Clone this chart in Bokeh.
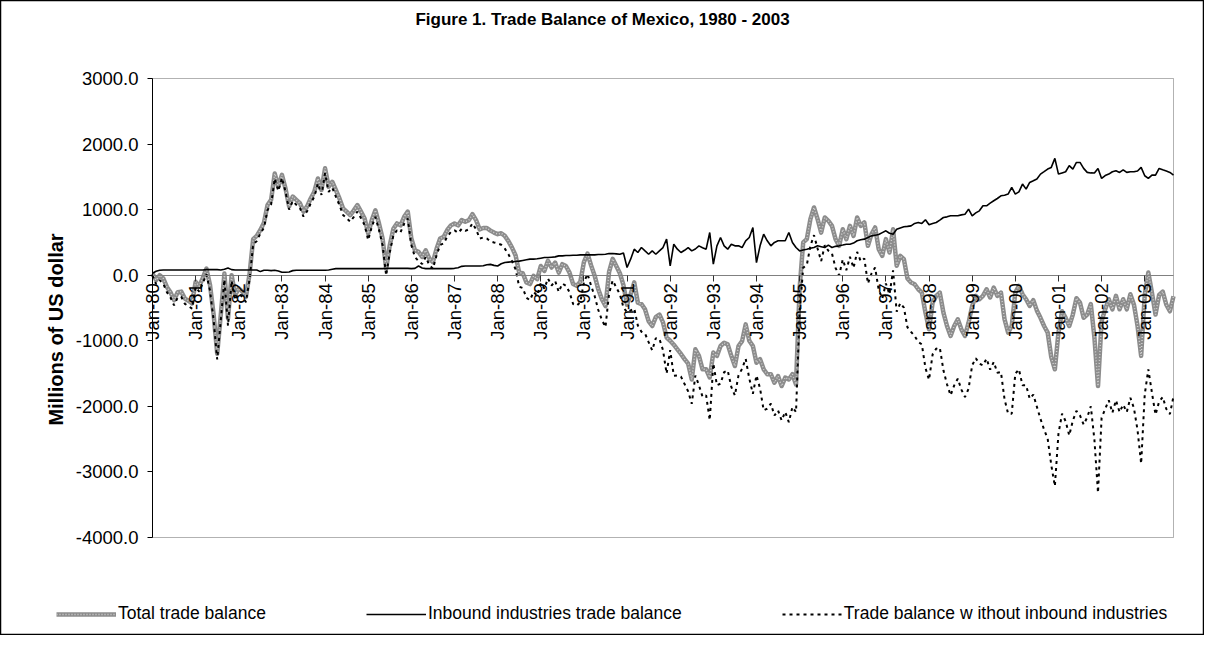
import math
from bokeh.plotting import figure
from bokeh.models import (Range1d, FixedTicker, PrintfTickFormatter, LinearAxis, Label,
                          Legend, LegendItem, ColumnDataSource, BoxAnnotation)
from bokeh.embed import file_html
from bokeh.resources import INLINE

# ---------------- data (millions of US dollars, monthly Jan-1980 .. Sep-2003) -------------
total_trade = [
    25, -76, 0, -50, -178, -260, -380, -260, -250, -356, -390, -430,            # 1980
    -100, -170, -40, 100, -150, -600, -1200, -600, 25, -660, 0, -300,          # 1981
    -200, -250, -330, 20, 550, 600, 690, 800, 1070, 1150, 1550, 1350,          # 1982
    1530, 1320, 1050, 1200, 1150, 1100, 970, 1050, 1170, 1270, 1475, 1300,     # 1983
    1630, 1350, 1425, 1300, 1170, 1020, 970, 915, 990, 1070, 970, 865,         # 1984
    636, 840, 990, 790, 560, 100, 458, 710, 790, 760, 890, 970,                # 1985
    560, 380, 356, 280, 380, 255, 200, 400, 560, 585, 690, 760,                # 1986
    790, 760, 840, 815, 840, 930, 840, 700, 720, 720, 680, 650,                # 1987
    626, 640, 600, 520, 420, 300, 40, 30, -110, -135, -10, -60,                # 1988
    140, 65, 220, 117, 193, 40, 168, 140, 40, -135, -160, -100,                # 1989
    200, 330, 150, -10, -215, -366, -470, 50, 250, 140, 30, -150,              # 1990
    -450, -290, -110, -420, -440, -520, -700, -775, -640, -600, -720, -950,    # 1991
    -1000, -1060, -1130, -1200, -1280, -1350, -1590, -1130, -1230, -1435, -1435, -1560,  # 1992
    -1180, -1230, -1080, -1030, -1055, -1230, -1385, -1080, -1005, -750, -1000, -1080,   # 1993
    -1335, -1280, -1435, -1510, -1510, -1640, -1537, -1690, -1560, -1590, -1510, -1665,  # 1994
    -200, 500, 550, 855, 1033, 855, 650, 880, 830, 753, 550, 448,              # 1995
    700, 550, 753, 600, 880, 753, 805, 448, 626, 728, 397, 295,                # 1996
    550, 346, 700, 143, 295, 245, -50, -112, -137, -214, -265, -570,           # 1997
    -825, -417, -316, -265, -570, -774, -926, -774, -672, -825, -926, -723,    # 1998
    -468, -316, -366, -316, -214, -340, -188, -316, -265, -672, -875, -774,    # 1999
    -265, -163, -290, -366, -468, -380, -540, -650, -774, -875, -1250, -1435,  # 2000
    -875, -550, -650, -774, -600, -350, -420, -650, -600, -440, -950, -1690,   # 2001
    -700, -520, -366, -520, -315, -520, -366, -520, -290, -450, -774, -1230,   # 2002
    -300, 40, -265, -600, -300, -250, -450, -550, -320,                        # 2003
]

inbound_trade = [
    30, 60, 75, 80, 80, 80, 80, 80, 80, 80, 80, 80,                            # 1980
    80, 80, 80, 85, 85, 85, 85, 80, 90, 110, 85, 80,                           # 1981
    80, 80, 80, 80, 80, 80, 55, 75, 75, 70, 75, 65,                            # 1982
    45, 45, 50, 70, 75, 75, 75, 75, 75, 75, 75, 75,                            # 1983
    75, 80, 90, 100, 100, 100, 100, 100, 100, 100, 100, 100,                   # 1984
    100, 100, 100, 100, 100, 105, 105, 105, 105, 105, 105, 105,                # 1985
    100, 105, 140, 110, 100, 100, 100, 100, 100, 100, 100, 100,                # 1986
    105, 115, 135, 140, 140, 140, 140, 140, 145, 160, 165, 150,                # 1987
    140, 175, 195, 200, 205, 210, 215, 225, 235, 245, 245, 250,                # 1988
    260, 270, 270, 275, 280, 295, 295, 300, 300, 305, 305, 310,                # 1989
    310, 310, 310, 310, 315, 315, 320, 330, 330, 325, 320, 340,                # 1990
    117, 245, 397, 346, 422, 370, 320, 371, 320, 371, 422, 550,                # 1991
    142, 473, 397, 346, 380, 422, 371, 400, 448, 420, 397, 651,                # 1992
    168, 448, 575, 448, 397, 473, 448, 448, 422, 525, 575, 728,                # 1993
    193, 448, 626, 525, 448, 500, 525, 525, 525, 651, 500, 422,                # 1994
    370, 385, 395, 410, 422, 448, 435, 422, 458, 422, 440, 448,                # 1995
    460, 473, 473, 490, 525, 540, 550, 575, 600, 610, 620, 650,                # 1996
    677, 640, 626, 700, 720, 738, 745, 753, 790, 804, 790, 845,                # 1997
    770, 790, 804, 840, 880, 890, 906, 906, 906, 920, 931, 1008,               # 1998
    906, 950, 982, 1059, 1059, 1100, 1135, 1170, 1211, 1220, 1237, 1339,       # 1999
    1237, 1272, 1390, 1313, 1415, 1440, 1466, 1542, 1580, 1619, 1644, 1782,    # 2000
    1542, 1560, 1578, 1670, 1619, 1720, 1720, 1629, 1568, 1560, 1558, 1629,    # 2001
    1476, 1520, 1542, 1578, 1593, 1568, 1608, 1568, 1578, 1578, 1590, 1644,    # 2002
    1517, 1476, 1527, 1527, 1629, 1608, 1590, 1568, 1527,                      # 2003
]

without_inbound = [
    -5, -136, -75, -130, -258, -340, -460, -340, -330, -436, -470, -510,       # 1980
    -180, -250, -120, 15, -235, -685, -1285, -680, -65, -770, -85, -380,       # 1981
    -280, -330, -410, -60, 470, 520, 635, 725, 995, 1080, 1475, 1285,          # 1982
    1485, 1275, 1000, 1130, 1075, 1025, 895, 975, 1095, 1195, 1400, 1225,      # 1983
    1555, 1270, 1335, 1200, 1070, 920, 870, 815, 890, 970, 870, 765,           # 1984
    536, 740, 890, 690, 460, -5, 353, 605, 685, 655, 785, 865,                 # 1985
    460, 275, 216, 170, 280, 155, 100, 300, 460, 485, 590, 660,                # 1986
    685, 645, 705, 675, 700, 790, 700, 560, 575, 560, 515, 500,                # 1987
    486, 465, 405, 320, 215, 90, -175, -195, -345, -380, -255, -310,           # 1988
    -120, -205, -50, -158, -87, -255, -127, -160, -260, -440, -465, -410,      # 1989
    -110, 20, -160, -320, -530, -681, -790, -280, -80, -185, -290, -490,       # 1990
    -567, -535, -507, -766, -862, -890, -1020, -1146, -960, -971, -1142, -1500,          # 1991
    -1142, -1533, -1527, -1546, -1660, -1772, -1961, -1530, -1678, -1855, -1832, -2211,  # 1992
    -1348, -1678, -1655, -1478, -1452, -1703, -1833, -1528, -1427, -1275, -1575, -1808,  # 1993
    -1528, -1728, -2061, -2035, -1958, -2140, -2062, -2215, -2085, -2241, -2010, -2087,  # 1994
    -570, 115, 155, 445, 611, 407, 215, 458, 372, 331, 110, 0,                 # 1995
    240, 77, 280, 110, 355, 213, 255, -127, 26, 118, -223, -355,               # 1996
    -127, -294, 74, -557, -425, -493, -795, -865, -927, -1018, -1055, -1415,   # 1997
    -1595, -1207, -1120, -1105, -1450, -1664, -1832, -1680, -1578, -1745, -1857, -1731,  # 1998
    -1374, -1266, -1348, -1375, -1273, -1440, -1323, -1486, -1476, -1892, -2112, -2113,  # 1999
    -1502, -1435, -1680, -1679, -1883, -1820, -2006, -2192, -2354, -2494, -2894, -3217,  # 2000
    -2417, -2110, -2228, -2444, -2219, -2070, -2140, -2279, -2168, -2000, -2508, -3319,  # 2001
    -2176, -2040, -1908, -2098, -1908, -2088, -1974, -2088, -1868, -2028, -2364, -2874,  # 2002
    -1817, -1436, -1792, -2127, -1929, -1858, -2040, -2118, -1847,                       # 2003
]

tick_labels = ["Jan-80", "Jan-81", "Jan-82", "Jan-83", "Jan-84", "Jan-85", "Jan-86",
               "Jan-87", "Jan-88", "Jan-89", "Jan-90", "Jan-91", "Jan-92", "Jan-93",
               "Jan-94", "Jan-95", "Jan-96", "Jan-97", "Jan-98", "Jan-99", "Jan-00",
               "Jan-01", "Jan-02", "Jan-03"]
y_ticks = [-4000, -3000, -2000, -1000, 0, 1000, 2000, 3000]

title_text = "Figure 1. Trade Balance of Mexico, 1980 - 2003"
y_label_text = "Millions of US dollar"
legend_labels = ["Total trade balance", "Inbound industries trade balance",
                 "Trade balance w ithout inbound industries"]

# ---------------- layout (pixels on the canvas) ----------------
W, H = 1204, 635                 # whole chart, its edge is the outer border
PL, PR, PT, PB = 152, 1173, 78, 537   # plot area inside the canvas
FONT = "Liberation Sans"

n = len(total_trade)
assert n == len(inbound_trade) == len(without_inbound)
x_lo, x_hi = 0, n - 1
y_lo, y_hi = y_ticks[0], y_ticks[-1]
xpp = (x_hi - x_lo) / (PR - PL)
ypp = (y_hi - y_lo) / (PB - PT)
x_range = Range1d(x_lo - PL * xpp, x_hi + (W - PR) * xpp)
y_range = Range1d(y_lo - (H - PB) * ypp, y_hi + PT * ypp)

src = ColumnDataSource(dict(m=list(range(n)), total=total_trade,
                            inbound=inbound_trade, without=without_inbound))

p = figure(width=W, height=H, output_backend="svg", toolbar_location=None,
           x_range=x_range, y_range=y_range,
           x_axis_location=None, y_axis_location=None,
           min_border=0, min_border_left=0, min_border_right=0,
           min_border_top=0, min_border_bottom=0,
           background_fill_color="white", border_fill_color="white")
p.grid.visible = False
p.outline_line_color = "black"
p.outline_line_width = 1.5

# plot-area box
p.add_layout(BoxAnnotation(left=x_lo, right=x_hi, bottom=y_lo, top=y_hi,
                           fill_alpha=0, line_color="black", line_width=1, level="underlay"))

# x axis sits on the zero line
xa = LinearAxis(fixed_location=0, bounds=(x_lo, x_hi))
xa.ticker = FixedTicker(ticks=[12 * i for i in range(len(tick_labels))])
xa.major_label_overrides = {12 * i: lab for i, lab in enumerate(tick_labels)}
xa.major_label_orientation = math.pi / 2
xa.axis_line_color = "#808080"
xa.axis_line_width = 1
xa.major_tick_line_color = "#303030"
xa.major_tick_in = 0
xa.major_tick_out = 6
xa.minor_tick_line_color = None
xa.major_label_standoff = 2
xa.major_label_text_font = FONT
xa.major_label_text_font_size = "18.5px"
xa.major_label_text_color = "black"
p.add_layout(xa, "below")

ya = LinearAxis(fixed_location=x_lo, bounds=(y_lo, y_hi))
ya.ticker = FixedTicker(ticks=y_ticks)
ya.formatter = PrintfTickFormatter(format="%.1f")
ya.axis_line_color = "black"
ya.major_tick_line_color = "black"
ya.major_tick_in = 0
ya.major_tick_out = 5
ya.minor_tick_line_color = None
ya.major_label_standoff = 9
ya.major_label_text_font = FONT
ya.major_label_text_font_size = "18.5px"
ya.major_label_text_color = "black"
p.add_layout(ya, "left")

# series
r_tot = p.line("m", "total", source=src, line_color="#8c8c8c", line_width=4.5,
               line_join="round")
r_tot2 = p.line("m", "total", source=src, line_color="#d4d4d4", line_width=1.4,
                line_dash="1 2")
r_inb = p.line("m", "inbound", source=src, line_color="black", line_width=1.6)
r_wo = p.line("m", "without", source=src, line_color="black", line_width=2,
              line_dash="3 4")

legend = Legend(items=[LegendItem(label=legend_labels[0], renderers=[r_tot, r_tot2]),
                       LegendItem(label=legend_labels[1], renderers=[r_inb]),
                       LegendItem(label=legend_labels[2], renderers=[r_wo])],
                location=(56, 11), orientation="horizontal",
                padding=0, margin=0, spacing=100, glyph_width=60, glyph_height=18,
                label_height=18, label_standoff=2,
                label_text_font=FONT, label_text_font_size="17.5px",
                label_text_color="black",
                background_fill_alpha=0, border_line_alpha=0)
p.add_layout(legend)

p.add_layout(Label(x=602, y=H - 18.5, x_units="screen", y_units="screen", text=title_text,
                   text_font=FONT, text_font_size="17px", text_font_style="bold",
                   text_color="black", text_align="center", text_baseline="middle"))
p.add_layout(Label(x=55, y=H - 329, x_units="screen", y_units="screen", text=y_label_text,
                   angle=math.pi / 2, text_font=FONT, text_font_size="20px",
                   text_font_style="bold", text_color="black",
                   text_align="center", text_baseline="middle"))

open("out.html", "w").write(file_html(p, INLINE))
